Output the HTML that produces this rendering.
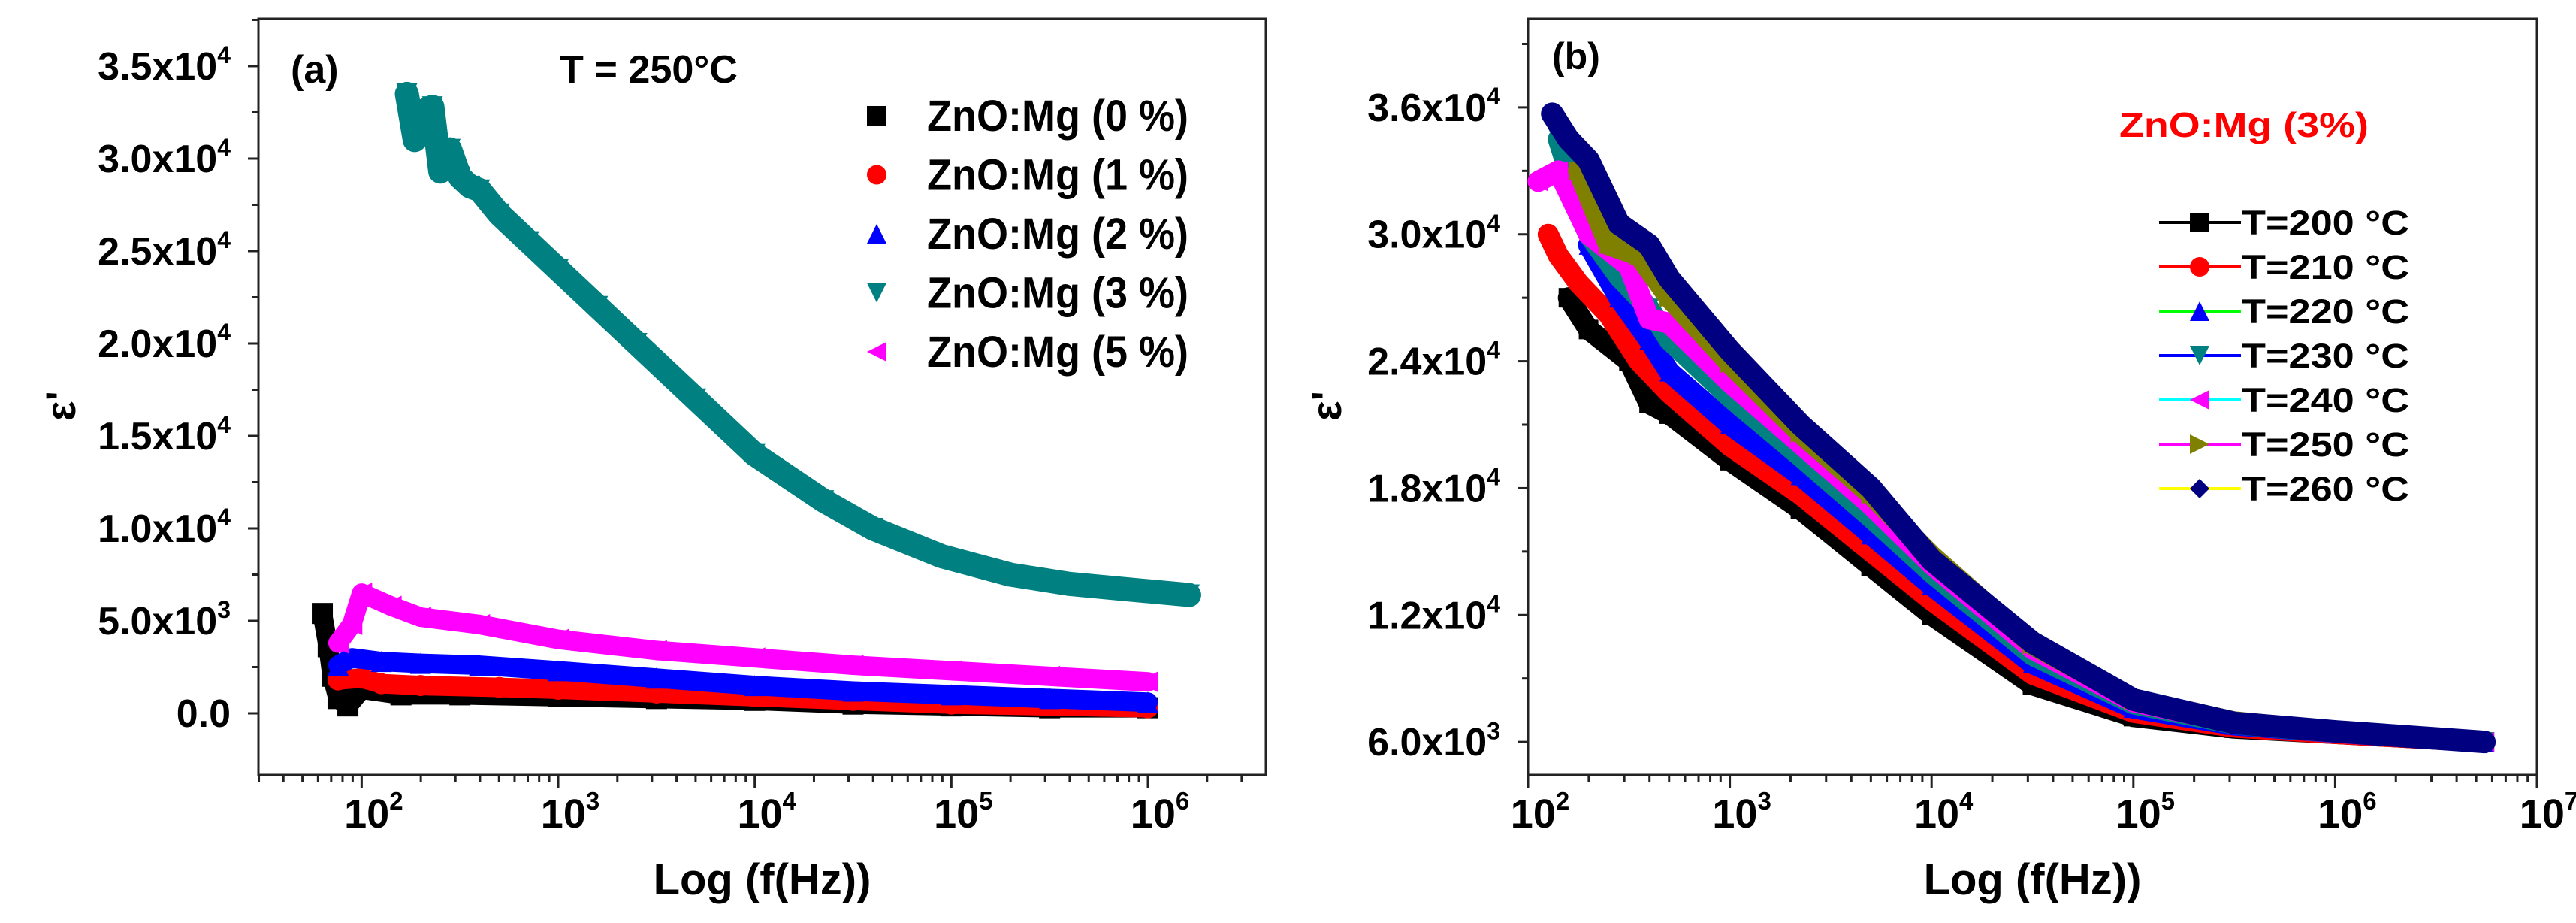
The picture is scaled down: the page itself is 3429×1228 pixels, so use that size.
<!DOCTYPE html>
<html><head><meta charset="utf-8"><style>
html,body{margin:0;padding:0;background:#fff}
svg{display:block}
text{font-family:"Liberation Sans",Arial,sans-serif;font-weight:bold}
</style></head><body>
<svg id="fig" width="3429" height="1228" viewBox="0 0 3429 1228" xmlns="http://www.w3.org/2000/svg"></svg>
<script>
// ---------- Panel (a) data: log10(f), epsilon' ----------
const aNames = ["ZnO:Mg (0 %)","ZnO:Mg (1 %)","ZnO:Mg (2 %)","ZnO:Mg (3 %)","ZnO:Mg (5 %)"];
const a0x = [1.8,1.83,1.85,1.88,1.93,2.0,2.2,2.5,3.0,3.5,4.0,4.5,5.0,5.5,6.0];
const a0y = [5400,3600,2000,800,400,1300,1000,1000,900,800,700,500,400,300,300];
const a1x = [1.88,2.0,2.1,2.3,2.7,3.0,3.5,4.0,4.5,5.0,5.5,6.0];
const a1y = [1800,1900,1600,1500,1400,1300,1100,900,700,500,400,300];
const a2x = [1.88,1.95,2.1,2.3,2.6,3.0,3.5,4.0,4.5,5.0,5.5,6.0];
const a2y = [2600,3000,2800,2700,2600,2300,1900,1500,1200,1000,800,600];
const a3x = [2.23,2.27,2.3,2.36,2.4,2.45,2.5,2.55,2.6,2.7,2.85,3.0,3.2,3.4,3.7,4.0,4.35,4.6,4.95,5.3,5.6,5.9,6.21];
const a3y = [33500,31000,32500,32800,29300,30500,29000,28500,28300,27000,25500,24000,22000,20000,17000,14000,11500,10000,8500,7500,7000,6700,6400];
const a5x = [1.88,1.95,2.0,2.15,2.3,2.6,3.0,3.5,4.0,4.5,5.0,5.5,6.0];
const a5y = [3800,4800,6500,5800,5200,4800,4000,3400,3000,2600,2300,2000,1700];
const aYTicks = [0,5000,10000,15000,20000,25000,30000,35000];
const aYLabels = ["0.0","5.0x10|3","1.0x10|4","1.5x10|4","2.0x10|4","2.5x10|4","3.0x10|4","3.5x10|4"];
const aXTicks = [2,3,4,5,6];

// ---------- Panel (b) data ----------
const bNames = ["T=200 °C","T=210 °C","T=220 °C","T=230 °C","T=240 °C","T=250 °C","T=260 °C"];
const b200x = [2.2,2.3,2.5,2.6,2.7,3.0,3.35,3.7,4.0,4.5,5.0,5.5,6.0,6.74];
const b200y = [27000,25500,24000,22000,21500,19300,17000,14300,12000,8700,7200,6650,6400,6000];
const b210x = [2.1,2.15,2.25,2.4,2.55,2.7,3.0,3.35,3.7,4.0,4.5,5.0,5.5,6.0,6.74];
const b210y = [30000,29000,27700,26200,24000,22500,20000,17700,15000,12700,9200,7400,6700,6400,6000];
const b220x = [2.3,2.45,2.6,2.7,3.0,3.35,3.7,4.0,4.5,5.0,5.5,6.0,6.74];
const b220y = [29500,27000,25000,23500,21000,18600,15800,13400,9700,7600,6800,6450,6000];
const b230x = [2.15,2.3,2.45,2.6,2.7,3.0,3.35,3.7,4.0,4.5,5.0,5.5,6.0,6.74];
const b230y = [34500,30000,28000,26500,25000,22300,19500,16600,14000,10100,7800,6850,6450,6000];
const b240x = [2.05,2.15,2.3,2.5,2.6,2.7,3.0,3.35,3.7,4.0,4.5,5.0,5.5,6.0,6.74];
const b240y = [32500,33000,30000,28500,26000,25800,23000,20100,17200,14400,10400,7900,6900,6450,6000];
const b250x = [2.25,2.4,2.55,2.7,3.0,3.35,3.7,4.0,4.5,5.0,5.5,6.0,6.74];
const b250y = [33000,29500,29000,27000,23900,20600,17700,14800,10600,8000,6950,6500,6000];
const b260x = [2.12,2.2,2.3,2.45,2.6,2.7,3.0,3.35,3.7,4.0,4.5,5.0,5.5,6.0,6.74];
const b260y = [35700,34500,33500,30500,29500,27900,24500,21000,18000,14600,10700,8000,6900,6500,6000];
const bYTicks = [6000,12000,18000,24000,30000,36000];
const bYLabels = ["6.0x10|3","1.2x10|4","1.8x10|4","2.4x10|4","3.0x10|4","3.6x10|4"];
const bXTicks = [2,3,4,5,6,7];

const NS="http://www.w3.org/2000/svg";
const svg=document.getElementById('fig');
function el(tag,attrs,parent){const e=document.createElementNS(NS,tag);for(const k in attrs)e.setAttribute(k,attrs[k]);(parent||svg).appendChild(e);return e;}

function marker(g,shape,cx,cy,s,fill){
  let e;
  if(shape==='sq') e=el('rect',{x:cx-s/2,y:cy-s/2,width:s,height:s,fill:fill},g);
  else if(shape==='ci') e=el('circle',{cx:cx,cy:cy,r:s/2,fill:fill},g);
  else {
    let p;
    if(shape==='up') p=[[cx,cy-s/2],[cx+s/2,cy+s/2],[cx-s/2,cy+s/2]];
    if(shape==='dn') p=[[cx-s/2,cy-s/2],[cx+s/2,cy-s/2],[cx,cy+s/2]];
    if(shape==='lt') p=[[cx-s/2,cy],[cx+s/2,cy-s/2],[cx+s/2,cy+s/2]];
    if(shape==='rt') p=[[cx+s/2,cy],[cx-s/2,cy-s/2],[cx-s/2,cy+s/2]];
    if(shape==='di') p=[[cx,cy-s/2],[cx+s/2,cy],[cx,cy+s/2],[cx-s/2,cy]];
    e=el('polygon',{points:p.map(q=>q.join(',')).join(' '),fill:fill},g);
  }
  return e;
}

function tickLabel(g,x,y,lab,fs,ss){
  const parts=lab.split('|');
  const t=el('text',{x:x,y:y,'text-anchor':'end','font-size':fs,fill:'#000'},g);
  t.textContent=parts[0];
  if(parts[1]){const sp=el('tspan',{dy:-fs*0.42,'font-size':ss},t);sp.textContent=parts[1];}
  return t;
}

function panel(cfg){
  const g=el('g',{});
  
  
  const X=v=>cfg.L+(v-cfg.x0)/(cfg.x1-cfg.x0)*(cfg.R-cfg.L);
  const Y=v=>cfg.B-(v-cfg.y0)/(cfg.y1-cfg.y0)*(cfg.B-cfg.T);
  const fr=el('rect',{x:cfg.L,y:cfg.T,width:cfg.R-cfg.L,height:cfg.B-cfg.T,fill:'none',stroke:'#222','stroke-width':3},g);
  
  
  const ya=el('g',{},g);
  
  
  cfg.yt.forEach((v,i)=>{
    const y=Y(v);
    el('line',{x1:cfg.L-14,x2:cfg.L,y1:y,y2:y,stroke:'#222','stroke-width':3},ya);
    const half=v+cfg.ystep/2;
    if(half<cfg.y1){const yh=Y(half);el('line',{x1:cfg.L-8,x2:cfg.L,y1:yh,y2:yh,stroke:'#222','stroke-width':3},ya);}
    const t=tickLabel(ya,cfg.L-37,y+18,cfg.yl[i],52,32);
    
    
  });
  const xa=el('g',{},g);
  
  
  for(let d=Math.floor(cfg.x0);d<=Math.ceil(cfg.x1);d++){
    for(let m=1;m<10;m++){
      const lv=d+Math.log10(m);
      if(lv<cfg.x0-1e-6||lv>cfg.x1+1e-6)continue;
      const x=X(lv);
      el('line',{x1:x,x2:x,y1:cfg.B,y2:cfg.B+(m===1?18:9),stroke:'#222','stroke-width':3},xa);
    }
  }
  cfg.xt.forEach(v=>{
    const x=X(v);
    const t=el('text',{x:x+16,y:cfg.B+70,'text-anchor':'middle','font-size':54,fill:'#000'},xa);
    t.textContent='10';
    const sp=el('tspan',{dy:-24,'font-size':33},t);sp.textContent=String(v);
    
    
  });
  const xt=el('text',{x:(cfg.L+cfg.R)/2,y:1190,'text-anchor':'middle','font-size':58,fill:'#000'},g);
  xt.textContent='Log (f(Hz))';
  
  
  const yt=el('text',{x:0,y:0,'text-anchor':'middle','font-size':56,fill:'#000',transform:`translate(${cfg.ylx},${cfg.yly}) rotate(-90)`},g);
  yt.textContent="ε'";
  
  
  cfg.series.forEach(s=>{
    const sg=el('g',{},g);
    
    
    const pts=s.x.map((v,i)=>X(v)+','+Y(s.y[i])).join(' ');
    el('polyline',{points:pts,fill:'none',stroke:s.c,'stroke-width':s.w,'stroke-linejoin':'round','stroke-linecap':'round'},sg);
    s.x.forEach((v,i)=>{
      const m=marker(sg,s.m,X(v),Y(s.y[i]),cfg.ms,s.c);
      
      
    });
  });
  return g;
}

panel({name:'panel-a',L:344,R:1685,T:25,B:1031,x0:1.475,x1:6.6,y0:-3333,y1:37560,ystep:5000,
  yt:aYTicks,yl:aYLabels,xt:aXTicks,ylx:100,yly:540,ms:28,
  series:[
    {name:'series-0pct',x:a0x,y:a0y,c:'#000',m:'sq',w:26},
    {name:'series-1pct',x:a1x,y:a1y,c:'#ff0000',m:'ci',w:26},
    {name:'series-2pct',x:a2x,y:a2y,c:'#0000ff',m:'up',w:26},
    {name:'series-5pct',x:a5x,y:a5y,c:'#ff00ff',m:'lt',w:26},
    {name:'series-3pct',x:a3x,y:a3y,c:'#008080',m:'dn',w:32}
  ]});
panel({name:'panel-b',L:2034,R:3377,T:25,B:1031,x0:2,x1:7,y0:4440,y1:40190,ystep:6000,
  yt:bYTicks,yl:bYLabels,xt:bXTicks,ylx:1785,yly:540,ms:26,
  series:[
    {name:'series-200C',x:b200x,y:b200y,c:'#000',m:'sq',w:28},
    {name:'series-210C',x:b210x,y:b210y,c:'#ff0000',m:'ci',w:28},
    {name:'series-220C',x:b220x,y:b220y,c:'#0000ff',m:'up',w:28},
    {name:'series-230C',x:b230x,y:b230y,c:'#008080',m:'dn',w:28},
    {name:'series-240C',x:b240x,y:b240y,c:'#ff00ff',m:'lt',w:28},
    {name:'series-250C',x:b250x,y:b250y,c:'#808000',m:'rt',w:28},
    {name:'series-260C',x:b260x,y:b260y,c:'#000080',m:'di',w:30}
  ]});

let t=el('text',{x:387,y:110,'font-size':52,fill:'#000'});t.textContent='(a)';


t=el('text',{x:745,y:110,'font-size':52,fill:'#000',textLength:237,lengthAdjust:'spacingAndGlyphs'});t.textContent='T = 250°C';


const legA=el('g',{});


const legAShapes=['sq','ci','up','dn','lt'];
const legAColors=['#000','#ff0000','#0000ff','#008080','#ff00ff'];
aNames.forEach((n,i)=>{
  const y=154+i*78.5;
  const e=el('g',{},legA);
  
  
  marker(e,legAShapes[i],1167,y,26,legAColors[i]);
  const tt=el('text',{x:1234,y:y+20,'font-size':58,fill:'#000',textLength:348,lengthAdjust:'spacingAndGlyphs'},e);
  tt.textContent=n;
});

t=el('text',{x:2066,y:92,'font-size':50,fill:'#000'});t.textContent='(b)';


t=el('text',{x:2821,y:182,'font-size':46,fill:'#ff0000',textLength:332,lengthAdjust:'spacingAndGlyphs'});t.textContent='ZnO:Mg (3%)';


const legB=el('g',{});


const legBShapes=['sq','ci','up','dn','lt','rt','di'];
const legBMark=['#000','#ff0000','#0000ff','#008080','#ff00ff','#808000','#000080'];
const legBLine=['#000','#ff0000','#00ff00','#0000ff','#00ffff','#ff00ff','#ffff00'];
bNames.forEach((n,i)=>{
  const y=296+i*59;
  const e=el('g',{},legB);
  
  
  el('line',{x1:2874,x2:2983,y1:y,y2:y,stroke:legBLine[i],'stroke-width':4},e);
  marker(e,legBShapes[i],2928,y,26,legBMark[i]);
  const tt=el('text',{x:2984,y:y+16,'font-size':45,fill:'#000',textLength:223,lengthAdjust:'spacingAndGlyphs'},e);
  tt.textContent=n;
});
</script>
</body></html>
